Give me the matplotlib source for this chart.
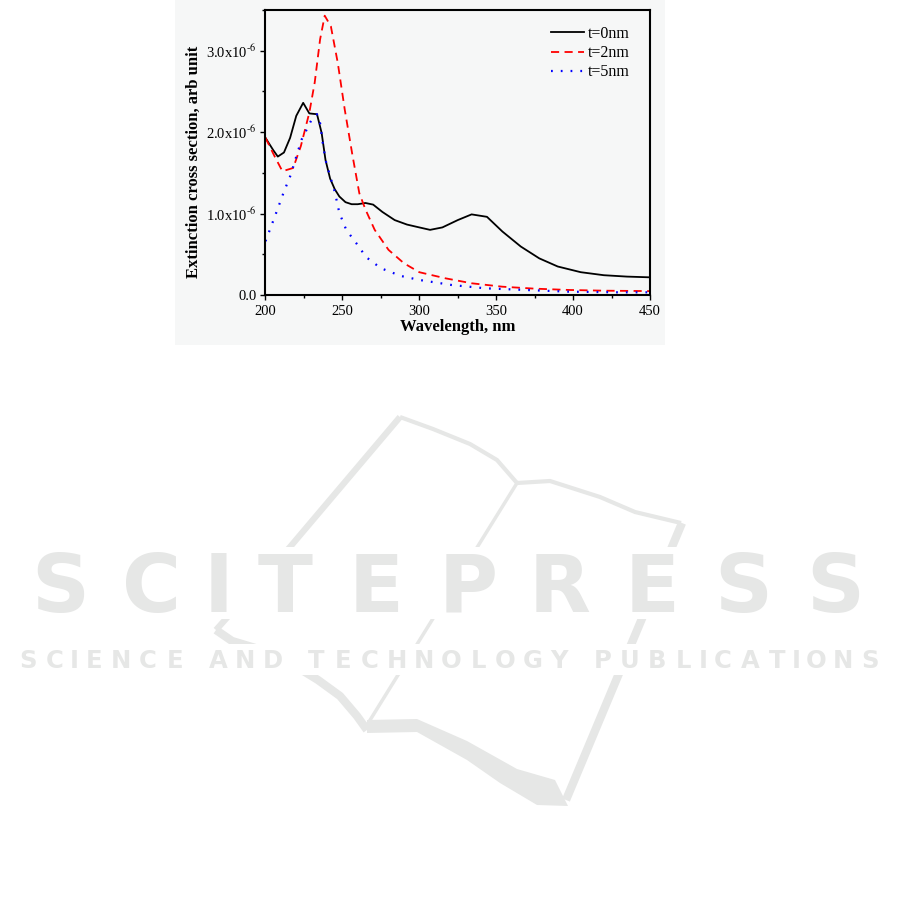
import numpy as np
import matplotlib.pyplot as plt
from matplotlib.patches import Rectangle, Polygon
from matplotlib.lines import Line2D
from matplotlib.ticker import MultipleLocator, FuncFormatter

# Fuente tipo Times para todo el grafico
plt.rcParams['font.family'] = ['Liberation Serif', 'DejaVu Serif']
plt.rcParams['mathtext.fontset'] = 'stix'

# Datos (seccion eficaz en unidades de 1e-6)
wl_t0 = [200, 205, 208, 212, 216, 220, 224.5, 228.5, 233.5, 236.5, 239, 242, 245, 248,
         252, 256, 260, 265, 270, 276, 284, 292, 300, 307, 315, 325, 334, 344, 354,
         366, 378, 390, 405, 420, 435, 450]
ext_t0 = [1.93, 1.78, 1.70, 1.75, 1.93, 2.20, 2.36, 2.23, 2.22, 1.99, 1.66, 1.43, 1.30, 1.21,
          1.14, 1.115, 1.115, 1.13, 1.11, 1.02, 0.92, 0.865, 0.83, 0.80, 0.83, 0.92, 0.99, 0.96, 0.78,
          0.595, 0.45, 0.35, 0.28, 0.243, 0.226, 0.217]

wl_t2 = [200, 206, 211, 218, 223, 228.5, 232, 235.5, 238.5, 242.5, 247, 251.5, 256.5, 261,
         265, 271, 280, 290, 300, 317, 334, 354, 375, 397, 420, 450]
ext_t2 = [1.93, 1.70, 1.52, 1.56, 1.83, 2.24, 2.61, 3.14, 3.43, 3.30, 2.85, 2.28, 1.72, 1.25,
          1.05, 0.80, 0.554, 0.39, 0.28, 0.205, 0.144, 0.102, 0.078, 0.062, 0.053, 0.048]

wl_t5 = [200, 206, 212, 216.5, 220, 223.5, 227, 230, 233.5, 235.5, 237.5, 239.5, 245, 248,
         252.5, 259, 265.5, 275, 288, 300, 321, 343, 369, 397, 429, 450]
ext_t5 = [0.66, 0.96, 1.27, 1.48, 1.70, 1.91, 2.04, 2.155, 2.22, 2.11, 1.83, 1.62, 1.27, 1.01,
          0.80, 0.637, 0.464, 0.329, 0.234, 0.185, 0.123, 0.082, 0.062, 0.041, 0.033, 0.033]

etiquetas = ['t=0nm', 't=2nm', 't=5nm']

W, H = 903, 906
fig = plt.figure(figsize=(W / 100, H / 100), dpi=100)
gris = '#e6e7e6'


def fx(px):
    return px / W


def fy(py):
    return 1 - py / H


# Fondo levemente gris de la imagen original del grafico
fig.add_artist(Rectangle((fx(175), fy(345)), 490 / W, 345 / H, transform=fig.transFigure,
                         facecolor='#f6f7f7', edgecolor='none', zorder=0))

# Logo del libro de la marca de agua (trazos en pixeles de la pagina)
trazos = [
    ([(400, 417), (290, 547), (216, 630)], 4.5),
    ([(216, 630), (232, 641), (262, 650), (292, 664), (318, 680), (340, 696), (357, 716), (367, 730)], 6),
    ([(400, 417), (433, 429), (470, 444), (497, 460), (517, 483)], 3),
    ([(517, 483), (367, 725)], 2.5),
    ([(517, 483), (550, 481), (600, 497), (635, 512), (681, 523)], 3),
    ([(682, 523), (566, 800)], 6),
]
for pts, lw in trazos:
    xs = [fx(p[0]) for p in pts]
    ys = [fy(p[1]) for p in pts]
    fig.add_artist(Line2D(xs, ys, transform=fig.transFigure, color=gris, lw=lw,
                          solid_capstyle='butt', zorder=0.5))
banda = [(367, 720), (417, 719), (467, 741), (517, 769), (555, 780), (568, 806), (537, 805),
         (500, 783), (467, 760), (417, 732), (367, 733)]
fig.add_artist(Polygon([(fx(x), fy(y)) for x, y in banda], closed=True, transform=fig.transFigure,
                       facecolor=gris, edgecolor='none', zorder=0.5))

# Huecos blancos alrededor del texto de la marca
for y0, y1 in [(547, 619), (644, 675)]:
    fig.add_artist(Rectangle((0, fy(y1)), 1, (y1 - y0) / H, transform=fig.transFigure,
                             facecolor='white', edgecolor='none', zorder=0.6))


# Marca de agua de la editorial, letra por letra para ocupar el mismo ancho
def marca_agua(texto, x0, x1, base, size):
    pesos = [0.45 if c == 'I' else (0.6 if c == ' ' else 1.0) for c in texto]
    total = sum(pesos)
    x = x0
    for c, p in zip(texto, pesos):
        w = (x1 - x0) * p / total
        if c != ' ':
            fig.text(fx(x + w / 2), fy(base), c, ha='center', va='baseline', zorder=0.7,
                     fontsize=size, fontweight='bold', color=gris, family='DejaVu Sans')
        x += w


marca_agua('SCITEPRESS', 14, 881, 612, 58)
marca_agua('SCIENCE AND TECHNOLOGY PUBLICATIONS', 14, 884, 668, 17.5)

ax = fig.add_axes([fx(265.5), fy(295), (650 - 265.5) / W, 285 / H])
ax.set_facecolor('none')

ax.plot(wl_t0, ext_t0, color='black', lw=1.3, label=etiquetas[0])
ax.plot(wl_t2, ext_t2, color='red', lw=1.3, dashes=(4.5, 3), label=etiquetas[1])
ax.plot(wl_t5, ext_t5, color='blue', lw=1.6, dashes=(0.8, 3.6), label=etiquetas[2])

ax.set_xlim(200, 450)
ax.set_ylim(0, 3.5)
ax.xaxis.set_major_locator(MultipleLocator(50))
ax.xaxis.set_minor_locator(MultipleLocator(25))
ax.yaxis.set_major_locator(MultipleLocator(1.0))
ax.yaxis.set_minor_locator(MultipleLocator(0.5))
ax.yaxis.set_major_formatter(FuncFormatter(
    lambda v, p: '0.0' if abs(v) < 1e-9 else '%.1fx10$^{\\text{-6}}$' % v))

ax.tick_params(which='both', direction='out', width=1, labelsize=10.5)
ax.tick_params(which='major', length=3.6)
ax.tick_params(which='minor', length=2.2)
ax.tick_params(axis='x', pad=3.5)
ax.tick_params(axis='y', pad=3)
for s in ax.spines.values():
    s.set_linewidth(1.5)

ax.set_xlabel('Wavelength, nm', fontsize=12, fontweight='bold', labelpad=1)
ax.set_ylabel('Extinction cross section, arb unit', fontsize=12, fontweight='bold', labelpad=3)
ax.yaxis.label.set_y(0.467)

ax.legend(loc='upper right', bbox_to_anchor=(0.948, 0.944), frameon=False, fontsize=11.5,
          handlelength=2.1, handletextpad=0.25, labelspacing=0.2, borderpad=0, borderaxespad=0)

fig.savefig('out.png', dpi=100)
